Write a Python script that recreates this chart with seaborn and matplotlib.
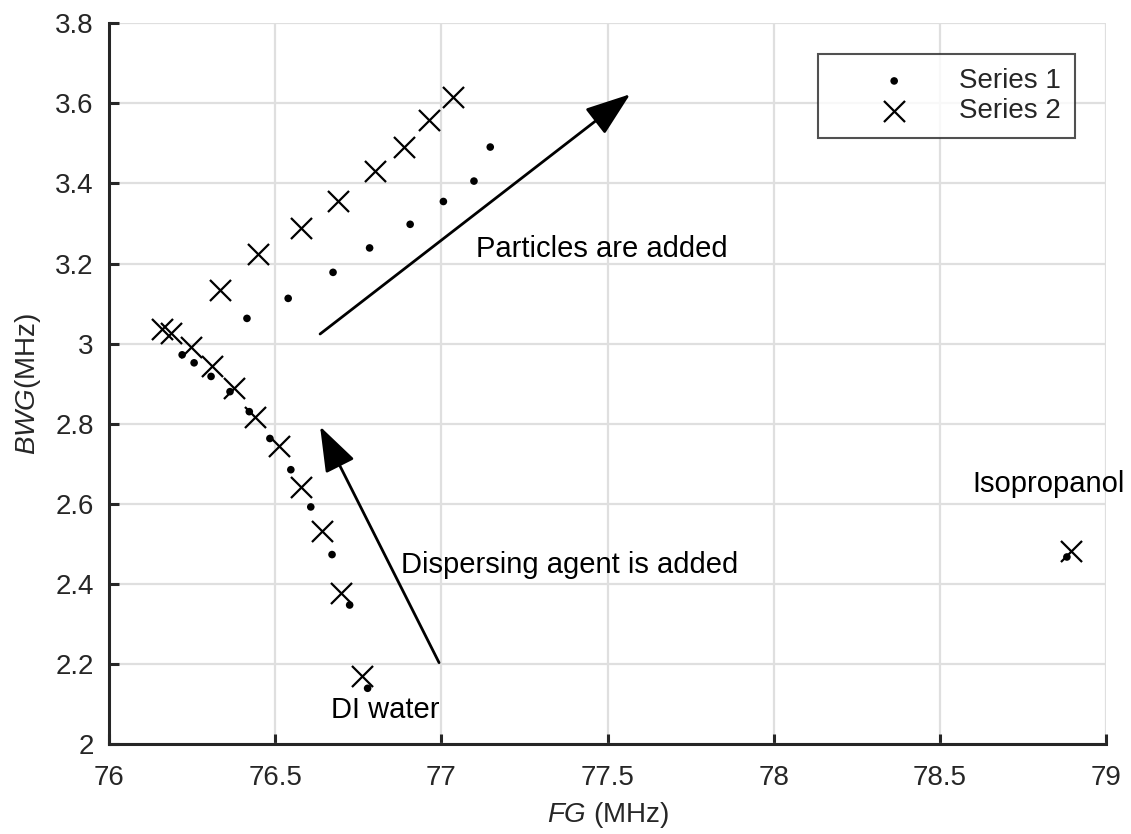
import matplotlib
matplotlib.use("Agg")
import matplotlib.pyplot as plt
import seaborn as sns
import pandas as pd

# Series 1: dot markers (FG, BWG) in MHz
s1_fg = [76.778, 76.724, 76.671, 76.607, 76.547, 76.484, 76.422, 76.364, 76.307,
         76.256, 76.220, 76.415, 76.539, 76.674, 76.784, 76.906, 77.006, 77.098,
         77.147, 78.882]
s1_bwg = [2.139, 2.347, 2.473, 2.592, 2.685, 2.763, 2.830, 2.880, 2.918,
          2.952, 2.972, 3.063, 3.113, 3.178, 3.239, 3.298, 3.355, 3.406,
          3.491, 2.467]

# Series 2: cross markers (FG, BWG) in MHz
s2_fg = [76.762, 76.697, 76.640, 76.577, 76.512, 76.439, 76.376, 76.311, 76.246,
         76.187, 76.159, 76.335, 76.447, 76.577, 76.688, 76.801, 76.889, 76.963,
         77.034, 78.894]
s2_bwg = [2.170, 2.376, 2.532, 2.642, 2.744, 2.816, 2.890, 2.943, 2.991,
          3.027, 3.037, 3.135, 3.224, 3.290, 3.357, 3.430, 3.491, 3.558,
          3.617, 2.482]

x_ticks = [76, 76.5, 77, 77.5, 78, 78.5, 79]
x_tick_labels = ["76", "76.5", "77", "77.5", "78", "78.5", "79"]
y_ticks = [2, 2.2, 2.4, 2.6, 2.8, 3, 3.2, 3.4, 3.6, 3.8]
y_tick_labels = ["2", "2.2", "2.4", "2.6", "2.8", "3", "3.2", "3.4", "3.6", "3.8"]

df1 = pd.DataFrame({"FG": s1_fg, "BWG": s1_bwg})
df2 = pd.DataFrame({"FG": s2_fg, "BWG": s2_bwg})

sns.set_theme(style="white")
plt.rcParams["font.family"] = ["Liberation Sans", "DejaVu Sans"]
plt.rcParams["mathtext.fontset"] = "custom"
plt.rcParams["mathtext.rm"] = "Liberation Sans"
plt.rcParams["mathtext.it"] = "Liberation Sans:italic"

ink = "#262626"
fs = 20
note_fs = 21
fig = plt.figure(figsize=(11.31, 8.34), dpi=100)
ax = fig.add_axes([0.0964, 0.108, 0.8816, 0.864])

sns.scatterplot(data=df1, x="FG", y="BWG", ax=ax, marker="o", s=30,
                color="black", edgecolor="none", label="Series 1", zorder=3)
sns.scatterplot(data=df2, x="FG", y="BWG", ax=ax, marker="x", s=230,
                color="black", linewidth=1.6, label="Series 2", zorder=4)

ax.set_xlim(76, 79)
ax.set_ylim(2, 3.8)
ax.set_xticks(x_ticks)
ax.set_xticklabels(x_tick_labels)
ax.set_yticks(y_ticks)
ax.set_yticklabels(y_tick_labels)
ax.grid(True, color="#dfdfdf", linewidth=1.6, zorder=0)
ax.set_axisbelow(True)

for side in ["top", "right"]:
    ax.spines[side].set_visible(False)
for side in ["left", "bottom"]:
    ax.spines[side].set_color(ink)
    ax.spines[side].set_linewidth(2.2)
ax.tick_params(axis="both", direction="in", length=7.5, width=2.2, color=ink,
               labelsize=fs, labelcolor=ink, left=True, bottom=True)
ax.tick_params(axis="x", pad=15)
ax.tick_params(axis="y", pad=11)

ax.set_xlabel(r"$\mathit{FG}$ (MHz)", fontsize=fs, color=ink, labelpad=7)
ax.set_ylabel(r"$\mathit{BWG}$(MHz)", fontsize=fs, color=ink, labelpad=9)

leg = ax.legend(loc="upper right", bbox_to_anchor=(0.969, 0.957), fontsize=fs,
                borderaxespad=0, frameon=True, fancybox=False, edgecolor=ink,
                borderpad=0.5, handletextpad=0.1, markerfirst=True,
                labelspacing=0.15, handlelength=4.5)
leg.get_frame().set_linewidth(1.5)
leg.get_frame().set_facecolor("white")

arrow_kw = dict(arrowstyle="-|>,head_length=1.4,head_width=0.5",
                mutation_scale=20, color="black", lw=2.0, shrinkA=0, shrinkB=0)
ax.annotate("", xy=(77.568, 3.623), xytext=(76.635, 3.024), arrowprops=arrow_kw)
ax.annotate("", xy=(76.635, 2.793), xytext=(76.993, 2.203), arrowprops=arrow_kw)

ax.text(77.104, 3.236, "Particles are added", fontsize=note_fs, color="black", va="center")
ax.text(76.879, 2.446, "Dispersing agent is added", fontsize=note_fs, color="black", va="center")
ax.text(76.668, 2.085, "DI water", fontsize=note_fs, color="black", va="center")
ax.text(78.597, 2.649, "Isopropanol", fontsize=note_fs, color="black", va="center")

fig.savefig("out.png", dpi=100)
